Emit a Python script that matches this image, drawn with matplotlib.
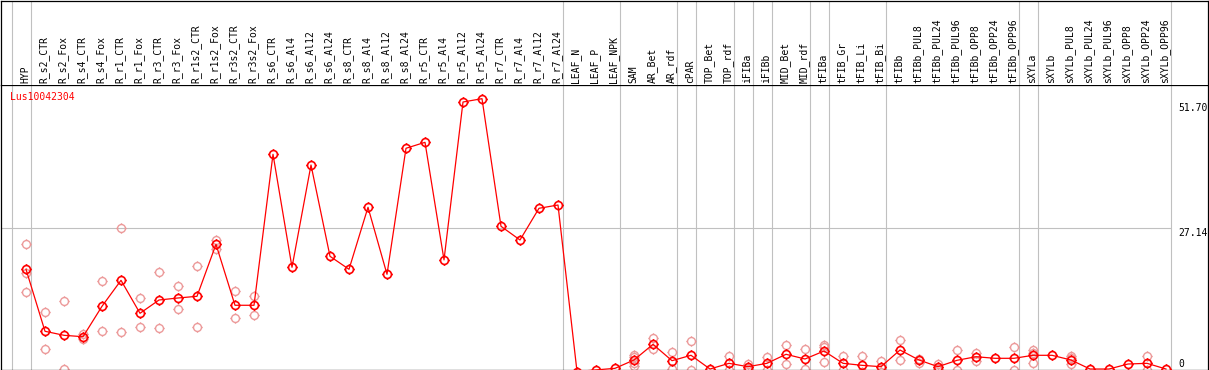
import matplotlib
matplotlib.use("Agg")
import matplotlib.pyplot as plt
from matplotlib.path import Path
from matplotlib.transforms import blended_transform_factory, offset_copy

# ---------------- data ----------------
gene = "Lus10042304"

categories = [
    "HYP",
    "R_s2_CTR", "R_s2_Fox", "R_s4_CTR", "R_s4_Fox", "R_r1_CTR", "R_r1_Fox",
    "R_r3_CTR", "R_r3_Fox", "R_r1s2_CTR", "R_r1s2_Fox", "R_r3s2_CTR", "R_r3s2_Fox",
    "R_s6_CTR", "R_s6_Al4", "R_s6_Al12", "R_s6_Al24",
    "R_s8_CTR", "R_s8_Al4", "R_s8_Al12", "R_s8_Al24",
    "R_r5_CTR", "R_r5_Al4", "R_r5_Al12", "R_r5_Al24",
    "R_r7_CTR", "R_r7_Al4", "R_r7_Al12", "R_r7_Al24",
    "LEAF_N", "LEAF_P", "LEAF_NPK",
    "SAM", "AR_Bet", "AR_rdf", "cPAR", "TOP_Bet", "TOP_rdf", "iFIBa", "iFIBb",
    "MID_Bet", "MID_rdf", "tFIBa", "tFIB_Gr", "tFIB_Li", "tFIB_Bi", "tFIBb",
    "tFIBb_PUL8", "tFIBb_PUL24", "tFIBb_PUL96", "tFIBb_OPP8", "tFIBb_OPP24", "tFIBb_OPP96",
    "sXYLa", "sXYLb",
    "sXYLb_PUL8", "sXYLb_PUL24", "sXYLb_PUL96", "sXYLb_OPP8", "sXYLb_OPP24", "sXYLb_OPP96",
]

means = [
    19.37,
    7.62, 6.86, 6.59, 12.36, 17.28, 11.03,
    13.55, 13.93, 14.25, 24.10, 12.55, 12.55,
    41.16, 19.75, 39.13, 21.83,
    19.37, 31.12, 18.42, 42.30,
    43.43, 21.15, 51.07, 51.70,
    27.52, 24.92, 30.93, 31.55,
    0.0, 0.3, 0.6,
    2.18, 5.15, 2.05, 3.07, 0.47, 1.55, 0.91, 1.55,
    3.26, 2.37, 3.88, 1.55, 1.17, 0.91, 4.07,
    2.18, 0.91, 2.12, 2.80, 2.50, 2.50,
    3.07, 3.07,
    2.18, 0.47, 0.47, 1.42, 1.55, 0.47,
]

replicates = [
    [24.1, 18.6, 15.1],
    [11.2, 4.2], [13.4, 0.4], [7.2, 6.1], [17.2, 7.6], [27.1, 7.4], [13.9, 8.4],
    [18.9, 8.2], [16.2, 11.8], [19.9, 8.4], [24.9, 23.3], [15.2, 10.1], [14.4, 10.7],
    [], [], [], [],
    [], [], [], [],
    [], [], [], [],
    [], [], [], [],
    [], [], [],
    [3.2, 2.8, 1.6, 1.1], [6.4, 4.2], [3.7, 0.4], [5.8, 0.3], [], [2.9, 0.2], [1.4, 0.4], [2.8, 0.3],
    [5.1, 1.5], [4.3, 0.4], [5.1, 4.6, 1.8], [2.9, 0.2], [2.9, 0.0], [2.0, 0.0], [6.0, 2.1],
    [2.4, 1.7], [1.4, 0.4], [4.1, 0.2], [3.6, 2.0], [], [4.7, 0.3],
    [4.0, 3.6, 1.6], [],
    [2.9, 2.5, 1.4], [], [], [], [2.9, 0.2], [],
]

group_ends = ["HYP", "R_r7_Al24", "LEAF_NPK", "AR_rdf", "cPAR", "TOP_rdf", "iFIBa",
              "iFIBb", "MID_rdf", "tFIBa", "tFIB_Bi", "tFIBb_OPP96", "sXYLa", "sXYLb_OPP96"]

ref_line = 27.14
ytick_values = [51.70, 27.14, 0]
ytick_labels = ["51.70", "27.14", "0"]

# ---------------- figure ----------------
W, H, DPI = 1209, 370, 100
fig = plt.figure(figsize=(W / DPI, H / DPI), dpi=DPI)
fig.patch.set_facecolor("white")

FONT = "DejaVu Sans Mono"
FS = 7

# plot area: pixel x 1..1208, y 85..369.5
ax = fig.add_axes([1 / W, 0.5 / H, 1207 / W, 284.5 / H])
axh = fig.add_axes([1 / W, 285 / H, 1207 / W, 84.5 / H], sharex=ax)

# column i sits at pixel 26 + 19*i
px_per_col = 19.0
x0_px = 26.0
ax.set_xlim((1 - x0_px) / px_per_col, (1208 - x0_px) / px_per_col)
# value v sits at pixel 371.5 - 5.277*v
y0_px, px_per_unit = 371.5, 5.277
ax.set_ylim((y0_px - 369.5) / px_per_unit, (y0_px - 85) / px_per_unit)
axh.set_ylim(0, 1)

for a in (ax, axh):
    a.set_xticks([])
    a.set_yticks([])
    a.set_facecolor("white")
    for s in a.spines.values():
        s.set_linewidth(0.9)
        s.set_color("black")
axh.spines["bottom"].set_visible(False)

x = list(range(len(categories)))

# vertical group separators (both panels)
sep_off = 4.5 / px_per_col
sep_positions = [-1 + sep_off] + [categories.index(n) + sep_off for n in group_ends]
for a in (ax, axh):
    for sx in sep_positions:
        a.axvline(sx, color="#c0c0c0", lw=0.8, zorder=0.5)

# horizontal reference line
ax.hlines(ref_line, ax.get_xlim()[0], sep_positions[-1], color="#c0c0c0", lw=0.8, zorder=0.5)

# marker: open circle with small ticks
circ = Path.unit_circle()
tick_verts = [(0, 1), (0, 1.3), (0, -1), (0, -1.3), (1, 0), (1.3, 0), (-1, 0), (-1.3, 0)]
tick_codes = [Path.MOVETO, Path.LINETO] * 4
marker = Path.make_compound_path(circ, Path(tick_verts, tick_codes))

# replicates
rx, ry = [], []
for i, reps in enumerate(replicates):
    for v in reps:
        rx.append(i)
        ry.append(v)
ax.plot(rx, ry, ls="none", marker=marker, ms=7.4, mfc="none", mec="#ec9a9a",
        mew=1.0, zorder=2)

# means
ax.plot(x, means, color="#ff0000", lw=0.9, marker=marker, ms=7.4, mfc="none",
        mec="#ff0000", mew=1.2, zorder=3)

# gene name
ax.text(9 / 1207, 1 - 7 / 284.5, gene, transform=ax.transAxes, color="#ff0000",
        fontsize=FS, family=FONT, ha="left", va="top")

# y labels on the right (pixel shift downward from the value's position)
lab_shift_px = [4.3, 0.0, -12.5]
xlab = (1178 - x0_px) / px_per_col
for v, lab, sh in zip(ytick_values, ytick_labels, lab_shift_px):
    tr = offset_copy(ax.transData, fig=fig, x=0, y=-sh * 72 / DPI, units="points")
    ax.text(xlab, v, lab, transform=tr, fontsize=FS, family=FONT,
            ha="left", va="top", color="black", clip_on=False)

# header labels
trh = blended_transform_factory(axh.transData, axh.transAxes)
for i, c in enumerate(categories):
    axh.text(i - 1 / px_per_col, 1.8 / 84.5, c, transform=trh, rotation=90,
             ha="center", va="bottom", fontsize=FS, family=FONT, color="black")

fig.savefig("out.png", dpi=DPI, facecolor="white")
